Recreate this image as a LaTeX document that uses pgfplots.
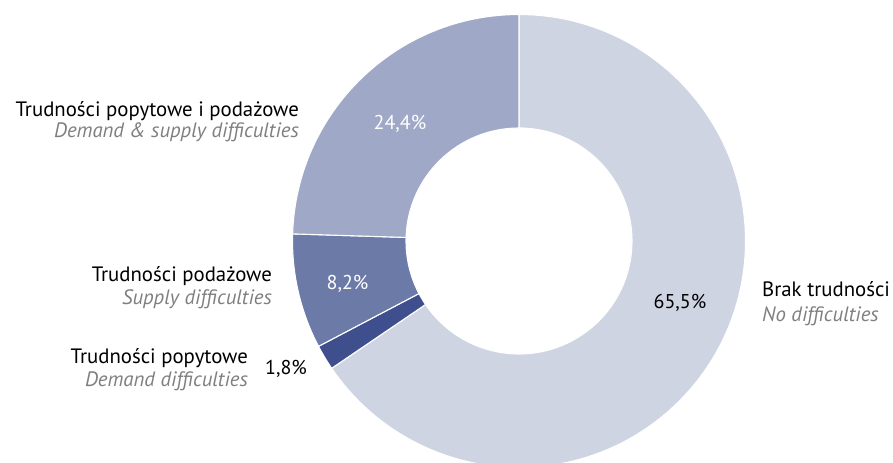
\documentclass[border=0pt]{standalone}
\usepackage{pgfplots}
\pgfplotsset{compat=1.18}
\usepackage{pgfplotstable}
\usepackage{fontspec}
\setmainfont{PT Sans}
\definecolor{cBrak}{HTML}{CFD4E3}
\definecolor{cPopyt}{HTML}{3F4F8E}
\definecolor{cPodaz}{HTML}{6C7AA8}
\definecolor{cOba}{HTML}{A0A8C7}
\definecolor{cGrey}{HTML}{7F7F7F}
\pgfplotstableread{
key value
Brak 65.5
Popyt 1.8
Podaz 8.2
Oba 24.4
}\shares
\newcommand\sector[3]{%
  \filldraw[#3, draw=white, line width=1.1bp, shift={(axis cs:519,222)}]
    (#1:226.5bp) arc[start angle=#1, end angle=#2, radius=226.5bp]
    -- (#2:113bp) arc[start angle=#2, end angle=#1, radius=113bp] -- cycle;}
\newcommand\pct[1]{\pgfmathprintnumber[use comma, fixed, precision=1, fixed zerofill, assume math mode=true]{#1}\%}
\begin{document}%
\begin{tikzpicture}
\pgfplotstablegetelem{0}{value}\of\shares \let\vA\pgfplotsretval
\pgfplotstablegetelem{1}{value}\of\shares \let\vB\pgfplotsretval
\pgfplotstablegetelem{2}{value}\of\shares \let\vC\pgfplotsretval
\pgfplotstablegetelem{3}{value}\of\shares \let\vD\pgfplotsretval
\pgfmathsetmacro\aA{90}
\pgfmathsetmacro\aB{\aA-3.6*\vA}
\pgfmathsetmacro\aC{\aB-3.6*\vB}
\pgfmathsetmacro\aD{\aC-3.6*\vC}
\pgfmathsetmacro\aE{-270}
\begin{axis}[name=ax, scale only axis, width=893bp, height=463bp,
  xmin=0, xmax=893, ymin=0, ymax=463, hide axis, clip=true]
\sector{\aA}{\aB}{cBrak}
\sector{\aB}{\aC}{cPopyt}
\sector{\aC}{\aD}{cPodaz}
\sector{\aD}{\aE}{cOba}
% labels
\begin{scope}[every node/.style={inner sep=0pt, font=\fontsize{20.8bp}{24bp}\selectfont}]
\node[anchor=base east] at (axis cs:299,346.3) {Trudności popytowe i podażowe};
\node[anchor=base east, text=cGrey, font=\fontsize{20.8bp}{24bp}\selectfont\itshape] at (axis cs:299,325.7) {Demand \& supply difficulties};
\node[anchor=base east] at (axis cs:272,181.3) {Trudności podażowe};
\node[anchor=base east, text=cGrey, font=\fontsize{20.8bp}{24bp}\selectfont\itshape] at (axis cs:272,158) {Supply difficulties};
\node[anchor=base east] at (axis cs:248,99.7) {Trudności popytowe};
\node[anchor=base east, text=cGrey, font=\fontsize{20.8bp}{24bp}\selectfont\itshape] at (axis cs:248,76.3) {Demand difficulties};
\node[anchor=base west] at (axis cs:762,166.3) {Brak trudności};
\node[anchor=base west, text=cGrey, font=\fontsize{20.8bp}{24bp}\selectfont\itshape] at (axis cs:762,141.3) {No difficulties};
\end{scope}
\begin{scope}[every node/.style={inner sep=0pt, font=\fontsize{20bp}{24bp}\selectfont}]
\node[anchor=base] at (axis cs:680,154) {\pct{\vA}};
\node[anchor=base] at (axis cs:286,88) {\pct{\vB}};
\node[anchor=base, text=white] at (axis cs:347.5,173) {\pct{\vC}};
\node[anchor=base, text=white] at (axis cs:400,333) {\pct{\vD}};
\end{scope}
\end{axis}
\pgfresetboundingbox
\path[use as bounding box] (ax.south west) rectangle (ax.north east);
\end{tikzpicture}%
\end{document}
